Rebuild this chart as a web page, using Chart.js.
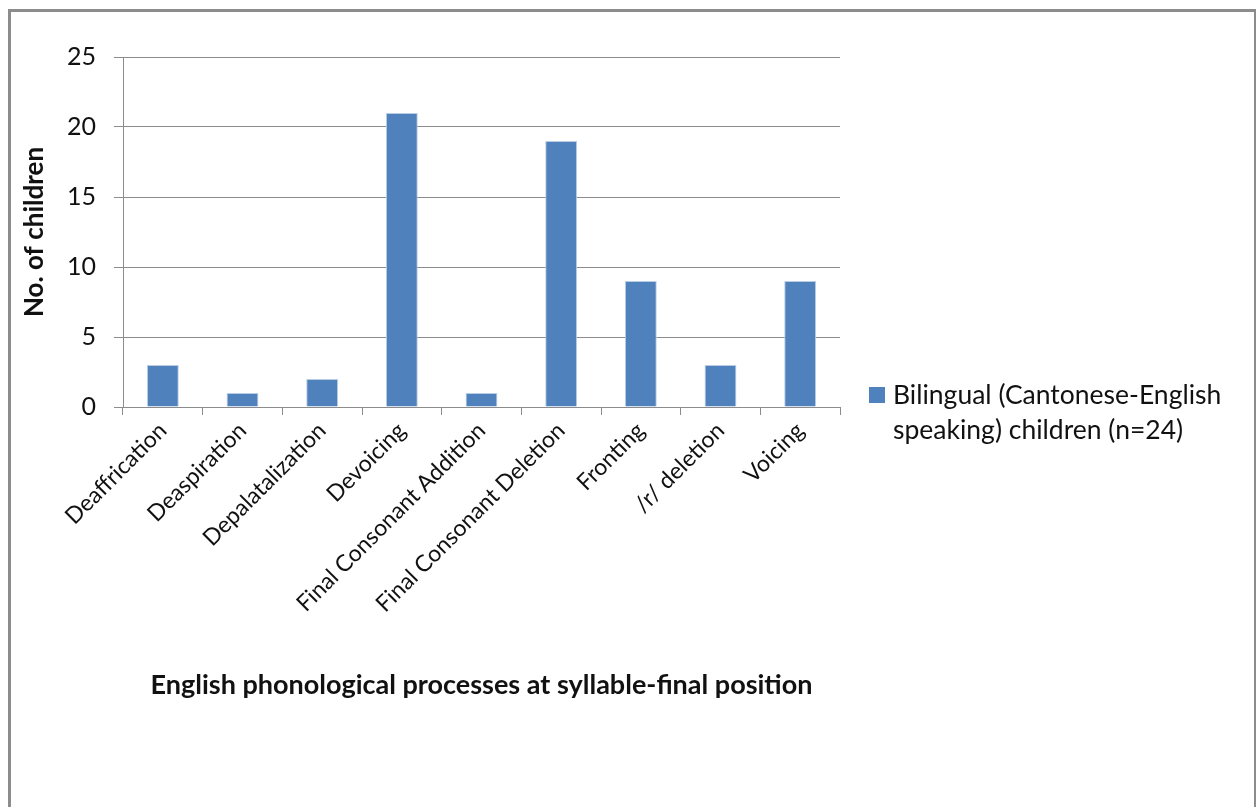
<!DOCTYPE html>
<html>
<head>
<meta charset="utf-8">
<script src="https://cdn.jsdelivr.net/npm/chart.js@4"></script>
<style>
  body { margin: 0; background: #fff; }
  #frame {
    position: absolute; left: 8px; top: 9px;
    width: 1249px; height: 900px;
    box-sizing: border-box;
    border: 3px solid #8c8c8c;
  }
  #wrap { position: absolute; left: 0; top: 0; width: 1243px; height: 795px; }
</style>
</head>
<body>
<div id="frame"><div id="wrap"><canvas id="chart"></canvas></div></div>
<script>
const categories = [
  "Deaffrication", "Deaspiration", "Depalatalization", "Devoicing",
  "Final Consonant Addition", "Final Consonant Deletion", "Fronting",
  "/r/ deletion", "Voicing"
];
const bilingualChildren = [3, 1, 2, 21, 1, 19, 9, 3, 9];
const seriesLabel = ["Bilingual (Cantonese-English", "speaking) children (n=24)"];
const yTicks = [0, 5, 10, 15, 20, 25];

const FONT = "Lato, 'Liberation Sans', sans-serif";
const BLUE = "#4f81bd";
const GRID = "#8c8c8c";

// legend drawn by hand so the label can wrap on two lines
const sideLegend = {
  id: "sideLegend",
  afterDraw(chart) {
    const { ctx, chartArea } = chart;
    const x = chartArea.right + 29;
    const y = chartArea.bottom - 12;
    ctx.save();
    ctx.fillStyle = BLUE;
    ctx.fillRect(x, y - 8, 16, 16);
    ctx.fillStyle = "#111";
    ctx.font = "26.5px " + FONT;
    ctx.textBaseline = "middle";
    seriesLabel.forEach((line, i) => ctx.fillText(line, x + 24, y + i * 35));
    ctx.restore();
  }
};

new Chart(document.getElementById("chart"), {
  type: "bar",
  data: {
    labels: categories,
    datasets: [{
      label: seriesLabel.join(" "),
      data: bilingualChildren,
      backgroundColor: BLUE,
      borderColor: "#b9cde5",
      borderWidth: 1,
      barPercentage: 0.4,
      categoryPercentage: 1
    }]
  },
  options: {
    animation: false,
    responsive: true,
    maintainAspectRatio: false,
    layout: { padding: { left: 0, top: 45, right: 414, bottom: 100 } },
    plugins: { legend: { display: false }, tooltip: { enabled: false } },
    scales: {
      x: {
        afterFit(scale) { scale.height = 300; },
        grid: { drawOnChartArea: false, color: GRID, tickLength: 8 },
        border: { color: GRID },
        ticks: {
          color: "#111", font: { family: FONT, size: 23 },
          minRotation: 45, maxRotation: 45, padding: 2, autoSkip: false
        },
        title: {
          display: true,
          text: "English phonological processes at syllable-final position",
          color: "#111",
          font: { family: FONT, size: 27, weight: "bold" },
          padding: { top: 4, bottom: 6 }
        }
      },
      y: {
        min: 0, max: 25,
        afterFit(scale) { scale.width = 112; },
        afterBuildTicks(scale) { scale.ticks = yTicks.map(v => ({ value: v })); },
        grid: { color: GRID, tickLength: 9 },
        border: { color: GRID },
        ticks: { color: "#111", font: { family: FONT, size: 25 }, padding: 18 },
        title: {
          display: true,
          text: "No. of children",
          color: "#111",
          font: { family: FONT, size: 26, weight: "bold" },
          padding: { top: 8, bottom: 4 }
        }
      }
    }
  },
  plugins: [sideLegend]
});
</script>
</body>
</html>
